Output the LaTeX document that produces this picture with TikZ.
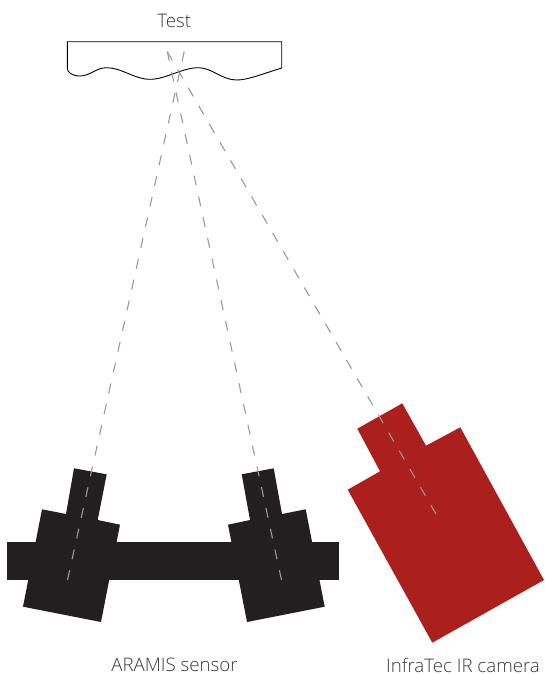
\documentclass[tikz,border=0pt]{standalone}
\usepackage{fontspec}
\setmainfont{Open Sans Light}[BoldFont=Open Sans]
\definecolor{camblack}{HTML}{231F20}
\definecolor{camred}{HTML}{AB1F1D}
\definecolor{raygray}{HTML}{999999}
\definecolor{labelgray}{HTML}{3A3A3A}
\tikzset{
  ray/.style={draw=raygray,line width=1.1pt,dash pattern=on 10pt off 11.25pt},
  irray/.style={draw=raygray,line width=1.1pt,dash pattern=on 10pt off 11pt},
  label text/.style={text=labelgray,font=\fontsize{18.7}{22}\selectfont,inner sep=0pt},
}
\begin{document}
\begin{tikzpicture}[x=1pt,y=-1pt]
\useasboundingbox (0,0) rectangle (544,675);
% test piece
\draw[line width=0.9pt,draw=black,line join=miter] (67.3,41.7) -- (281.7,41.7) -- (281.7,68)
  .. controls (262,74) and (248,80) .. (236.7,80)
  .. controls (222,80) and (212,67.7) .. (198.3,67.7)
  .. controls (182,67.7) and (166,79.3) .. (150,79.3)
  .. controls (134,79.3) and (122,67.7) .. (106.7,67.7)
  .. controls (96,67.7) and (90,76) .. (80,76)
  .. controls (72,76) and (67.3,72) .. (67.3,68.3) -- cycle;
% sensors
\fill[camblack] (7,542) rectangle (339,579.7);
\fill[camblack] (74,468.3) -- (106.7,474.3) -- (97.7,520) -- (120,524.7) -- (101,622) -- (23,606.7) -- (42,509.3) -- (66,514) -- cycle;
\fill[camblack] (273.7,468.3) -- (241.7,474.3) -- (250,520) -- (228,524.7) -- (247,622) -- (324.7,606.7) -- (305.7,509.3) -- (282,514) -- cycle;
% IR camera
\fill[camred] (402.3,403.3) -- (426,445.7) -- (460.3,427.3) -- (544,580) -- (432.3,642.7) -- (347.7,489.7) -- (380,471.3) -- (357.3,428.7) -- cycle;
% rays
\coordinate (leftlens) at (67.5,580);
\coordinate (rightlens) at (281.5,580);
\coordinate (irlens) at (436,514);
\coordinate (focusA) at (184.3,51);
\coordinate (focusB) at (167.3,51.7);
\draw[ray] (leftlens) -- (focusA);
\draw[ray] (rightlens) -- (focusB);
\draw[irray] (irlens) -- (focusB);
% labels
\node[label text] (testlabel) at (174.3,20.5) {Test};
\node[label text] (aramislabel) at (174.5,665) {ARAMIS sensor};
\node[label text] (irlabel) at (463,665) {InfraTec IR camera};
\end{tikzpicture}
\end{document}
